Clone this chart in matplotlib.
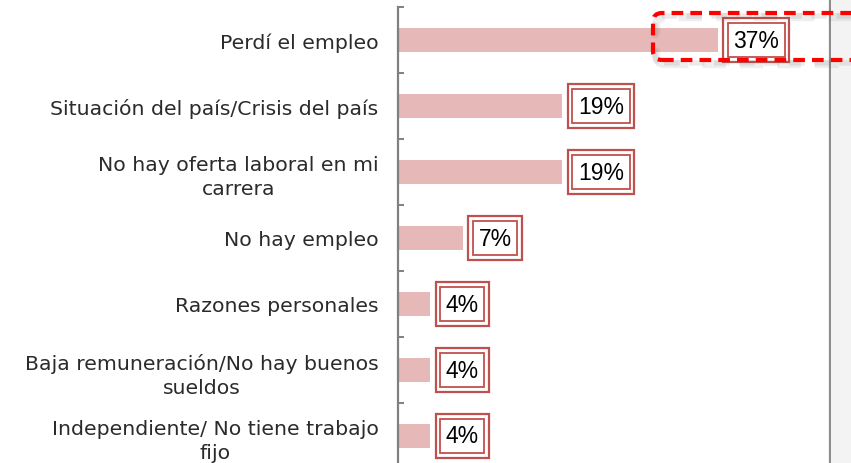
import matplotlib
matplotlib.use("Agg")
import matplotlib.pyplot as plt
from matplotlib.patches import FancyBboxPatch, Rectangle
from matplotlib.lines import Line2D
from matplotlib.transforms import IdentityTransform
import numpy as np

categories = [
    "Perdí el empleo",
    "Situación del país/Crisis del país",
    "No hay oferta laboral en mi\ncarrera",
    "No hay empleo",
    "Razones personales",
    "Baja remuneración/No hay buenos\nsueldos",
    "Independiente/ No tiene trabajo\nfijo",
]
values = [37.0, 19.0, 19.0, 7.5, 3.7, 3.7, 3.7]
value_labels = ["37%", "19%", "19%", "7%", "4%", "4%", "4%"]

W, H = 851, 464
DPI = 100
fig = plt.figure(figsize=(W / DPI, H / DPI), dpi=DPI)
fig.patch.set_facecolor("white")

# axes: left edge 398px, right 830px, top 8px, bottom 470px (beyond figure)
ax = fig.add_axes([398 / W, (H - 470) / H, 432 / W, 462 / H])
ax.set_facecolor("none")

bar_color = "#e6b8b7"
box_color = "#c0504d"
y = np.arange(len(categories))
ax.barh(y, values, height=0.35, color=bar_color, zorder=2)
ax.set_xlim(0, 50)
ax.set_ylim(len(categories) - 0.5, -0.5)

for s in ["top", "right", "bottom"]:
    ax.spines[s].set_visible(False)
ax.spines["left"].set_color("#808080")
ax.spines["left"].set_linewidth(1.6)
ax.set_xticks([])

ax.set_yticks(y)
ax.set_yticklabels(categories, fontsize=14.7, color="#2b2b2b",
                   family=["DejaVu Sans"], multialignment="center",
                   linespacing=1.35)
ax.tick_params(axis="y", which="major", length=0, pad=14)
ax.set_yticks(np.arange(-0.5, len(categories) - 0.4, 1), minor=True)
ax.tick_params(axis="y", which="minor", direction="in", length=4.5,
               width=1.4, color="#808080")

fs = 16.5
for yi, v, lab in zip(y, values, value_labels):
    off_px = 6 + 0.42 * fs * DPI / 72
    for pad, lw in [(0.44, 1.6), (0.25, 1.3)]:
        ax.annotate(lab, xy=(v, yi), xytext=(off_px * 72 / DPI, 0),
                    textcoords="offset points", ha="left", va="center",
                    fontsize=fs, family=["Liberation Sans", "DejaVu Sans"],
                    color="black", zorder=5,
                    bbox=dict(boxstyle=f"square,pad={pad}", fc="white",
                              ec=box_color, lw=lw))

# right vertical line and shaded margin
fig.patches.append(Rectangle((832, 0), 19, H, transform=IdentityTransform(),
                             facecolor="#f3f3f3", edgecolor="none", zorder=0))
fig.lines.append(Line2D([830, 830], [0, H], transform=IdentityTransform(),
                        color="#8c8c8c", lw=1.6, zorder=1))

# dashed highlight box with soft shadow
x0, y0, x1, y1 = 653, H - 61, 900, H - 14
for dx, dy, a, lw in [(3, -4, 0.10, 6), (2, -3, 0.12, 4)]:
    fig.patches.append(FancyBboxPatch((x0 + dx, y0 + dy), x1 - x0, y1 - y0,
                                      boxstyle="round,pad=0,rounding_size=9",
                                      transform=IdentityTransform(),
                                      facecolor="none", edgecolor="#606060",
                                      alpha=a, lw=lw, linestyle=(0, (2.8, 1.7)),
                                      zorder=8))
fig.patches.append(FancyBboxPatch((x0, y0), x1 - x0, y1 - y0,
                                  boxstyle="round,pad=0,rounding_size=9",
                                  transform=IdentityTransform(),
                                  facecolor="none", edgecolor="#ff0000",
                                  lw=3.0, linestyle=(0, (2.8, 1.7)), zorder=9))

fig.savefig("out.png", dpi=DPI)
